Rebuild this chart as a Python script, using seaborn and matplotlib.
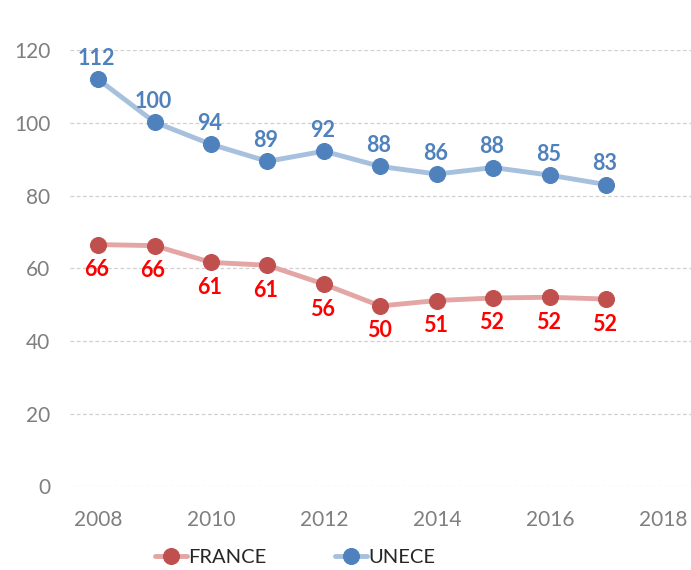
import numpy as np
import pandas as pd
import matplotlib
matplotlib.use("Agg")
import matplotlib.pyplot as plt
import seaborn as sns

# Values
years = [2008, 2009, 2010, 2011, 2012, 2013, 2014, 2015, 2016, 2017]
unece = [112.0, 100.2, 94.1, 89.4, 92.2, 88.0, 85.9, 87.7, 85.6, 83.0]
france = [66.5, 66.2, 61.6, 60.8, 55.6, 49.6, 51.1, 51.8, 52.0, 51.5]
unece_labels = ["112", "100", "94", "89", "92", "88", "86", "88", "85", "83"]
france_labels = ["66", "66", "61", "61", "56", "50", "51", "52", "52", "52"]
y_ticks = [0, 20, 40, 60, 80, 100, 120]
x_ticks = [2008, 2010, 2012, 2014, 2016, 2018]

sns.set_style("white")
plt.rcParams['font.family'] = ['Lato', 'DejaVu Sans']

df = pd.DataFrame({'year': years, 'UNECE': unece, 'FRANCE': france})

fig = plt.figure(figsize=(6.91, 5.70), dpi=100)
ax = fig.add_axes([0.101, 0.147, 0.899, 0.765])

sns.lineplot(data=df, x='year', y='FRANCE', ax=ax, color='#e3a6a5', linewidth=3.5,
             marker='o', markersize=11.5, markerfacecolor='#c0504d', markeredgecolor='#c0504d',
             label='FRANCE')
sns.lineplot(data=df, x='year', y='UNECE', ax=ax, color='#a6c0de', linewidth=3.5,
             marker='o', markersize=11.5, markerfacecolor='#4f81bd', markeredgecolor='#4f81bd',
             label='UNECE')

# data labels: UNECE above the points, FRANCE below
for x, y, t in zip(years, unece, unece_labels):
    ax.annotate(t, (x, y), xytext=(-1, 15), textcoords='offset points', ha='center', va='center',
                fontsize=15.5, fontweight='bold', color='#4f81bd', annotation_clip=False)
for x, y, t in zip(years, france, france_labels):
    ax.annotate(t, (x, y), xytext=(-1, -18), textcoords='offset points', ha='center', va='center',
                fontsize=15.5, fontweight='bold', color='#ff0000', annotation_clip=False)

ax.set_xlim(2007.5, 2018.5)
ax.set_ylim(0, 120)
ax.set_xticks(x_ticks)
ax.set_yticks(y_ticks)
ax.set_xlabel('')
ax.set_ylabel('')
ax.grid(axis='y', color='#d0d0d0', linestyle=(0, (3, 2)), linewidth=0.9)
ax.set_axisbelow(True)
for s in ax.spines.values():
    s.set_visible(False)
ax.tick_params(axis='both', length=0, labelsize=15, colors='#7f7f7f')
ax.tick_params(axis='x', pad=17)
ax.tick_params(axis='y', pad=14)

ax.get_legend().remove()
fig.legend(loc='center left', bbox_to_anchor=(155 / 691, 1 - 557 / 570), ncol=2, frameon=False,
           fontsize=14.5, columnspacing=3.4, handlelength=1.6, handletextpad=0.05,
           borderpad=0, borderaxespad=0)

fig.savefig('out.png', dpi=100)
